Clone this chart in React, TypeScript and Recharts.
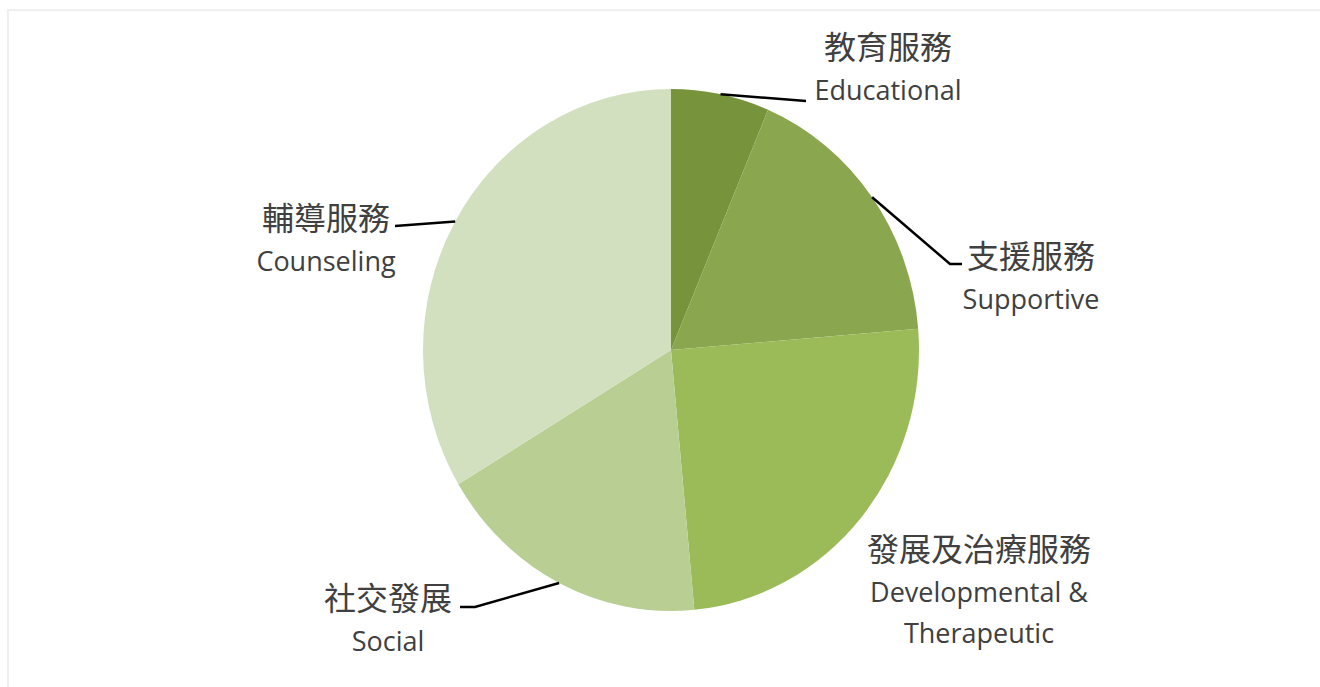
import React from 'react';
import { PieChart, Pie, Cell, Sector } from 'recharts';

const categories = ['教育服務', '支援服務', '發展及治療服務', '社交發展', '輔導服務'];
const englishLabels = [['Educational'], ['Supportive'], ['Developmental &', 'Therapeutic'], ['Social'], ['Counseling']];
const shares = [6.4, 17.3, 24.8, 17.9, 33.6];
const sliceColors = ['#77933C', '#8AA64E', '#9BBB59', '#B8CE93', '#D3E0BF'];

const data = categories.map((name, i) => ({ name, value: shares[i] }));

// chart geometry (pie is slightly taller than wide in the source)
const CX = 671;
const CY = 350;
const RX = 248;
const SCALE_Y = 261 / 248;
const RAD = Math.PI / 180;

// label placement relative to pie centre: text centre x, first baseline y, leader points
const labelLayout = [
  { dx: 217, dy: -291, leader: [[135, -249]] },
  { dx: 360, dy: -82, leader: [[279, -86], [291, -86]] },
  { dx: 308, dy: 211, leader: [] },
  { dx: -283, dy: 260, leader: [[-196, 257], [-211, 257]] },
  { dx: -345, dy: -120, leader: [[-276, -124]] },
];

const cjkFont = '"Noto Sans CJK TC", "Noto Sans CJK SC", sans-serif';
const latinFont = '"Open Sans", sans-serif';
const textColor = '#404040';

const EllipseSector = (props: any) => (
  <g transform={`translate(0 ${props.cy}) scale(1 ${SCALE_Y}) translate(0 ${-props.cy})`}>
    <Sector {...props} />
  </g>
);

const SliceLabel = (props: any) => {
  const { cx, cy, midAngle, outerRadius, index } = props;
  const lay = labelLayout[index];
  const a = -midAngle * RAD;
  const ex = cx + outerRadius * Math.cos(a);
  const ey = cy + outerRadius * SCALE_Y * Math.sin(a);
  const pts = [[ex, ey], ...lay.leader.map(([x, y]) => [cx + x, cy + y])];
  const tx = cx + lay.dx;
  const ty = cy + lay.dy;
  return (
    <g>
      {lay.leader.length > 0 && (
        <polyline
          points={pts.map((p) => p.join(',')).join(' ')}
          fill="none"
          stroke="#000"
          strokeWidth={2.5}
        />
      )}
      <text x={tx} y={ty} textAnchor="middle" fill={textColor} fontFamily={cjkFont} fontSize={32}>
        {categories[index]}
      </text>
      {englishLabels[index].map((line, j) => (
        <text
          key={j}
          x={tx}
          y={ty + 41 * (j + 1)}
          textAnchor="middle"
          fill={textColor}
          fontFamily={latinFont}
          fontSize={27}
        >
          {line}
        </text>
      ))}
    </g>
  );
};

export default function App() {
  return (
    <div style={{ position: 'fixed', left: 0, top: 0, width: 1320, height: 687, overflow: 'hidden', background: '#fff' }}>
      <div
        style={{
          position: 'absolute',
          left: 7,
          top: 9,
          width: 1330,
          height: 700,
          border: '2px solid #efefef',
        }}
      />
      <div style={{ position: 'absolute', left: 0, top: 0 }}>
        <PieChart width={1320} height={687} margin={{ top: 0, right: 0, bottom: 0, left: 0 }}>
          <Pie
            data={data}
            dataKey="value"
            nameKey="name"
            cx={CX}
            cy={CY}
            outerRadius={RX}
            startAngle={90}
            endAngle={-270}
            stroke="none"
            shape={EllipseSector}
            label={SliceLabel}
            labelLine={false}
            isAnimationActive={false}
          >
            {data.map((d, i) => (
              <Cell key={d.name} fill={sliceColors[i]} />
            ))}
          </Pie>
        </PieChart>
      </div>
    </div>
  );
}
